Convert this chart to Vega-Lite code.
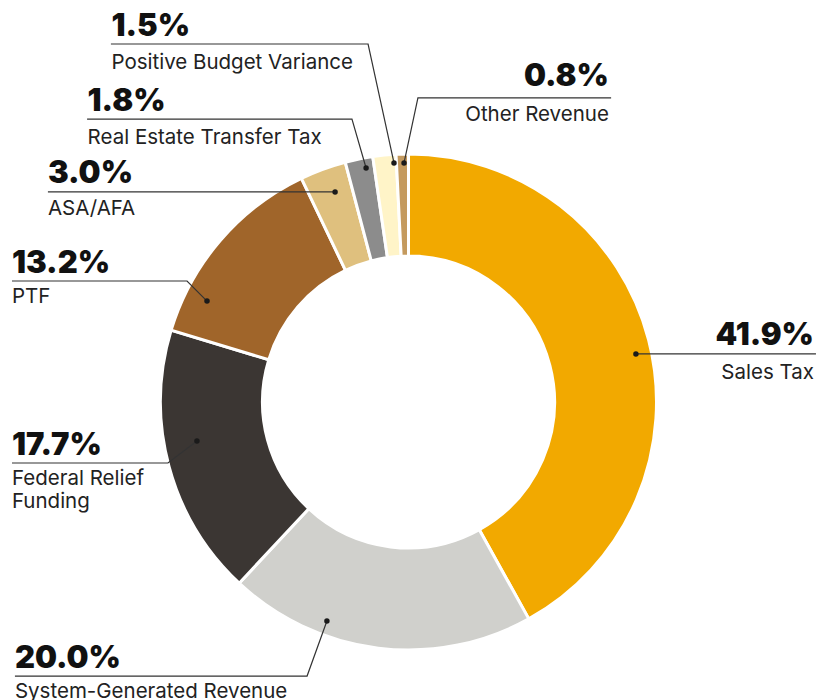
{
  "$schema": "https://vega.github.io/schema/vega-lite/v6.json",
  "width": 817,
  "height": 700,
  "padding": 0,
  "autosize": {"type": "none"},
  "background": "white",
  "config": {"view": {"stroke": null}},
  "datasets": {
    "slices": [
      {"name": "Sales Tax", "value": 41.9, "order": 1},
      {"name": "System-Generated Revenue", "value": 20.0, "order": 2},
      {"name": "Federal Relief Funding", "value": 17.7, "order": 3},
      {"name": "PTF", "value": 13.2, "order": 4},
      {"name": "ASA/AFA", "value": 3.0, "order": 5},
      {"name": "Real Estate Transfer Tax", "value": 1.8, "order": 6},
      {"name": "Positive Budget Variance", "value": 1.5, "order": 7},
      {"name": "Other Revenue", "value": 0.8, "order": 8}
    ],
    "labels": [
      {"pct": "41.9%", "name": "Sales Tax", "side": "right", "tx": 163.5, "ty": 23.0, "ny": 9.3},
      {"pct": "0.8%", "name": "Other Revenue", "side": "right", "tx": 80.8, "ty": 127.4, "ny": 113.3},
      {"pct": "1.5%", "name": "Positive Budget Variance", "side": "left", "tx": -119.8, "ty": 147.6, "ny": 134.3},
      {"pct": "1.8%", "name": "Real Estate Transfer Tax", "side": "left", "tx": -129.4, "ty": 117.3, "ny": 104.0},
      {"pct": "3.0%", "name": "ASA/AFA", "side": "left", "tx": -145.4, "ty": 88.3, "ny": 75.4},
      {"pct": "13.2%", "name": "PTF", "side": "left", "tx": -159.9, "ty": 52.0, "ny": 39.9},
      {"pct": "17.7%", "name": "Federal Relief\nFunding", "side": "left", "tx": -159.9, "ty": -21.4, "ny": -33.5},
      {"pct": "20.0%", "name": "System-Generated Revenue", "side": "left", "tx": -158.7, "ty": -107.3, "ny": -119.4}
    ],
    "leaders": [
      {"id": "Sales Tax", "seq": 1, "x": 91.7, "y": 19.4},
      {"id": "Sales Tax", "seq": 2, "x": 164.3, "y": 19.4},
      {"id": "Other Revenue", "seq": 1, "x": -1.8, "y": 96.4},
      {"id": "Other Revenue", "seq": 2, "x": 3.8, "y": 122.6},
      {"id": "Other Revenue", "seq": 3, "x": 81.7, "y": 122.6},
      {"id": "Positive Budget Variance", "seq": 1, "x": -5.85, "y": 96.4},
      {"id": "Positive Budget Variance", "seq": 2, "x": -16.3, "y": 144.35},
      {"id": "Positive Budget Variance", "seq": 3, "x": -120.0, "y": 144.35},
      {"id": "Real Estate Transfer Tax", "seq": 1, "x": -17.1, "y": 94.35},
      {"id": "Real Estate Transfer Tax", "seq": 2, "x": -22.8, "y": 114.1},
      {"id": "Real Estate Transfer Tax", "seq": 3, "x": -129.6, "y": 114.1},
      {"id": "ASA/AFA", "seq": 1, "x": -29.6, "y": 84.7},
      {"id": "ASA/AFA", "seq": 2, "x": -145.4, "y": 84.7},
      {"id": "PTF", "seq": 1, "x": -81.25, "y": 40.7},
      {"id": "PTF", "seq": 2, "x": -89.3, "y": 48.8},
      {"id": "PTF", "seq": 3, "x": -159.9, "y": 48.8},
      {"id": "Federal Relief Funding", "seq": 1, "x": -85.3, "y": -15.7},
      {"id": "Federal Relief Funding", "seq": 2, "x": -97.0, "y": -24.6},
      {"id": "Federal Relief Funding", "seq": 3, "x": -159.9, "y": -24.6},
      {"id": "System-Generated Revenue", "seq": 1, "x": -32.9, "y": -88.3},
      {"id": "System-Generated Revenue", "seq": 2, "x": -40.9, "y": -110.5},
      {"id": "System-Generated Revenue", "seq": 3, "x": -158.7, "y": -110.5}
    ]
  },
  "layer": [
    {
      "data": {"name": "slices"},
      "mark": {"type": "arc", "outerRadius": 248, "innerRadius": 146, "stroke": "white", "strokeWidth": 3},
      "encoding": {
        "x": {"datum": 0, "type": "quantitative", "scale": {"domain": [-164.72, 164.72], "nice": false, "zero": false}, "axis": null},
        "y": {"datum": 0, "type": "quantitative", "scale": {"domain": [-120.16, 162.1], "nice": false, "zero": false}, "axis": null},
        "theta": {"field": "value", "type": "quantitative", "stack": true},
        "order": {"field": "order", "type": "quantitative", "sort": "ascending"},
        "color": {
          "field": "name", "type": "nominal", "legend": null,
          "scale": {
            "domain": ["Sales Tax", "System-Generated Revenue", "Federal Relief Funding", "PTF", "ASA/AFA", "Real Estate Transfer Tax", "Positive Budget Variance", "Other Revenue"],
            "range": ["#F2A900", "#D0D0CC", "#3B3633", "#A0652A", "#DFC07E", "#8C8C8C", "#FFF4C8", "#C49A5E"]
          }
        }
      }
    },
    {
      "data": {"name": "leaders"},
      "mark": {"type": "line", "stroke": "#333333", "strokeWidth": 1.2, "interpolate": "linear"},
      "encoding": {
        "x": {"field": "x", "type": "quantitative", "scale": {"domain": [-164.72, 164.72], "nice": false, "zero": false}, "axis": null},
        "y": {"field": "y", "type": "quantitative", "scale": {"domain": [-120.16, 162.1], "nice": false, "zero": false}, "axis": null},
        "detail": {"field": "id", "type": "nominal"},
        "order": {"field": "seq", "type": "quantitative"}
      }
    },
    {
      "data": {"name": "leaders"},
      "transform": [{"filter": "datum.seq == 1"}],
      "mark": {"type": "circle", "size": 30, "color": "#1a1a1a", "opacity": 1},
      "encoding": {
        "x": {"field": "x", "type": "quantitative", "scale": {"domain": [-164.72, 164.72], "nice": false, "zero": false}, "axis": null},
        "y": {"field": "y", "type": "quantitative", "scale": {"domain": [-120.16, 162.1], "nice": false, "zero": false}, "axis": null}
      }
    },
    {
      "data": {"name": "labels"},
      "transform": [{"filter": "datum.side == 'left'"}],
      "mark": {"type": "text", "align": "left", "baseline": "alphabetic", "font": "Inter", "fontSize": 31, "fontWeight": 900, "color": "#111111"},
      "encoding": {
        "x": {"field": "tx", "type": "quantitative", "scale": {"domain": [-164.72, 164.72], "nice": false, "zero": false}, "axis": null},
        "y": {"field": "ty", "type": "quantitative", "scale": {"domain": [-120.16, 162.1], "nice": false, "zero": false}, "axis": null},
        "text": {"field": "pct", "type": "nominal"}
      }
    },
    {
      "data": {"name": "labels"},
      "transform": [{"filter": "datum.side == 'right'"}],
      "mark": {"type": "text", "align": "right", "baseline": "alphabetic", "font": "Inter", "fontSize": 31, "fontWeight": 900, "color": "#111111"},
      "encoding": {
        "x": {"field": "tx", "type": "quantitative", "scale": {"domain": [-164.72, 164.72], "nice": false, "zero": false}, "axis": null},
        "y": {"field": "ty", "type": "quantitative", "scale": {"domain": [-120.16, 162.1], "nice": false, "zero": false}, "axis": null},
        "text": {"field": "pct", "type": "nominal"}
      }
    },
    {
      "data": {"name": "labels"},
      "transform": [{"filter": "datum.side == 'left'"}],
      "mark": {"type": "text", "align": "left", "baseline": "alphabetic", "font": "Inter", "fontSize": 20.5, "fontWeight": 400, "color": "#222222", "lineBreak": "\n", "lineHeight": 23},
      "encoding": {
        "x": {"field": "tx", "type": "quantitative", "scale": {"domain": [-164.72, 164.72], "nice": false, "zero": false}, "axis": null},
        "y": {"field": "ny", "type": "quantitative", "scale": {"domain": [-120.16, 162.1], "nice": false, "zero": false}, "axis": null},
        "text": {"field": "name", "type": "nominal"}
      }
    },
    {
      "data": {"name": "labels"},
      "transform": [{"filter": "datum.side == 'right'"}],
      "mark": {"type": "text", "align": "right", "baseline": "alphabetic", "font": "Inter", "fontSize": 20.5, "fontWeight": 400, "color": "#222222"},
      "encoding": {
        "x": {"field": "tx", "type": "quantitative", "scale": {"domain": [-164.72, 164.72], "nice": false, "zero": false}, "axis": null},
        "y": {"field": "ny", "type": "quantitative", "scale": {"domain": [-120.16, 162.1], "nice": false, "zero": false}, "axis": null},
        "text": {"field": "name", "type": "nominal"}
      }
    }
  ]
}
